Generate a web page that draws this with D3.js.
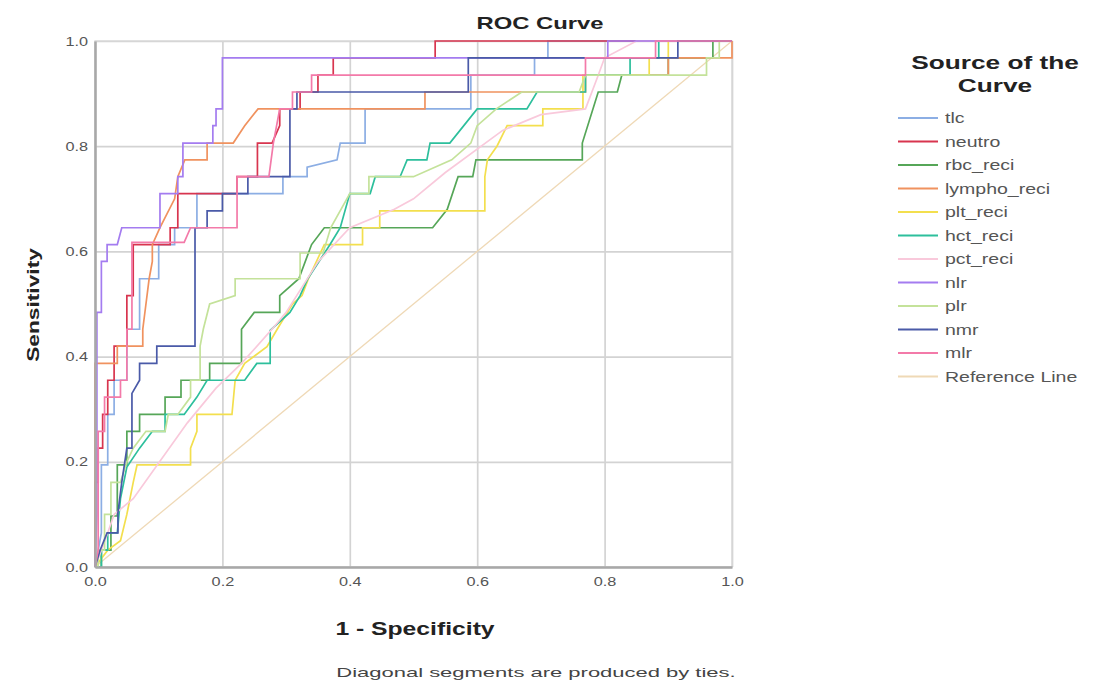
<!DOCTYPE html>
<html>
<head>
<meta charset="utf-8">
<script src="https://cdn.jsdelivr.net/npm/d3@7"></script>
<style>
  body { margin: 0; background: #fff; }
  svg { font-family: "Liberation Sans", Arial, sans-serif; }
</style>
</head>
<body>
<div id="chart"></div>
<script>
// --- Data: [1 - specificity, sensitivity] vertices of each ROC staircase ---
const tlc = [[0,0],[0.005,0.032],[0.01,0.065],[0.01,0.194],[0.02,0.194],[0.02,0.29],[0.03,0.29],[0.03,0.355],[0.05,0.355],[0.05,0.452],[0.07,0.452],[0.07,0.548],[0.1,0.548],[0.1,0.613],[0.125,0.613],[0.125,0.645],[0.16,0.645],[0.16,0.71],[0.295,0.71],[0.295,0.742],[0.333,0.742],[0.333,0.76],[0.38,0.774],[0.385,0.806],[0.424,0.806],[0.424,0.871],[0.59,0.871],[0.59,0.935],[0.69,0.935],[0.69,0.968],[0.711,0.968],[0.711,1],[1,1]];
const neutro = [[0,0],[0,0.161],[0.005,0.161],[0.005,0.226],[0.012,0.226],[0.012,0.29],[0.02,0.29],[0.02,0.355],[0.03,0.355],[0.03,0.42],[0.05,0.42],[0.05,0.516],[0.06,0.516],[0.06,0.613],[0.118,0.613],[0.118,0.645],[0.13,0.645],[0.13,0.71],[0.223,0.71],[0.223,0.742],[0.255,0.742],[0.255,0.806],[0.278,0.806],[0.29,0.839],[0.29,0.871],[0.322,0.871],[0.322,0.903],[0.35,0.903],[0.35,0.935],[0.374,0.935],[0.374,0.968],[0.534,0.968],[0.534,1],[1,1]];
const rbc_reci = [[0,0],[0.01,0],[0.01,0.032],[0.025,0.032],[0.025,0.097],[0.035,0.097],[0.035,0.194],[0.05,0.194],[0.05,0.258],[0.07,0.258],[0.07,0.29],[0.11,0.29],[0.11,0.323],[0.135,0.323],[0.135,0.355],[0.18,0.355],[0.18,0.387],[0.23,0.387],[0.23,0.452],[0.25,0.484],[0.29,0.484],[0.29,0.516],[0.32,0.548],[0.34,0.613],[0.36,0.645],[0.53,0.645],[0.553,0.68],[0.57,0.742],[0.593,0.742],[0.598,0.774],[0.765,0.774],[0.765,0.806],[0.79,0.903],[0.82,0.903],[0.827,0.935],[0.9,0.935],[0.9,0.968],[0.97,0.968],[0.97,1],[1,1]];
const lympho_reci = [[0,0],[0,0.387],[0.035,0.387],[0.035,0.42],[0.075,0.42],[0.075,0.452],[0.08,0.5],[0.085,0.548],[0.09,0.581],[0.09,0.613],[0.102,0.645],[0.125,0.7],[0.13,0.742],[0.141,0.774],[0.176,0.774],[0.176,0.806],[0.217,0.806],[0.235,0.839],[0.256,0.871],[0.518,0.871],[0.518,0.903],[0.77,0.903],[0.77,0.935],[0.9,0.935],[0.9,0.968],[1,0.968],[1,1]];
const plt_reci = [[0,0],[0.02,0.032],[0.04,0.05],[0.05,0.1],[0.06,0.161],[0.066,0.194],[0.15,0.194],[0.15,0.226],[0.16,0.258],[0.16,0.29],[0.215,0.29],[0.22,0.355],[0.235,0.387],[0.27,0.419],[0.286,0.452],[0.31,0.5],[0.325,0.516],[0.335,0.548],[0.36,0.613],[0.42,0.613],[0.42,0.645],[0.447,0.645],[0.447,0.677],[0.612,0.677],[0.612,0.742],[0.616,0.774],[0.631,0.8],[0.647,0.839],[0.703,0.839],[0.703,0.871],[0.766,0.871],[0.766,0.935],[0.87,0.935],[0.87,0.968],[0.9,0.968],[0.9,1],[1,1]];
const hct_reci = [[0,0],[0.01,0],[0.01,0.032],[0.02,0.032],[0.02,0.065],[0.035,0.065],[0.04,0.13],[0.05,0.19],[0.07,0.226],[0.09,0.258],[0.11,0.258],[0.11,0.29],[0.14,0.29],[0.16,0.323],[0.176,0.355],[0.235,0.355],[0.254,0.387],[0.275,0.387],[0.275,0.45],[0.306,0.484],[0.322,0.516],[0.334,0.548],[0.369,0.613],[0.385,0.645],[0.4,0.71],[0.432,0.71],[0.44,0.742],[0.479,0.742],[0.49,0.774],[0.521,0.774],[0.526,0.806],[0.557,0.806],[0.6,0.871],[0.678,0.871],[0.694,0.903],[0.77,0.903],[0.77,0.935],[0.84,0.935],[0.84,0.968],[0.885,0.968],[0.885,1],[1,1]];
const pct_reci = [[0,0],[0.01,0.032],[0.02,0.065],[0.03,0.1],[0.06,0.13],[0.145,0.274],[0.19,0.34],[0.23,0.387],[0.28,0.455],[0.3,0.484],[0.35,0.58],[0.4,0.645],[0.47,0.68],[0.5,0.7],[0.55,0.75],[0.64,0.83],[0.7,0.86],[0.77,0.871],[0.79,0.935],[0.8,0.968],[0.85,1],[1,1]];
const nlr = [[0,0],[0.003,0.1],[0.003,0.484],[0.01,0.484],[0.01,0.581],[0.019,0.581],[0.019,0.613],[0.035,0.613],[0.042,0.645],[0.102,0.645],[0.102,0.71],[0.13,0.71],[0.13,0.742],[0.138,0.742],[0.138,0.806],[0.185,0.806],[0.185,0.839],[0.19,0.839],[0.19,0.871],[0.2,0.871],[0.2,0.968],[0.805,0.968],[0.805,1],[1,1]];
const plr = [[0,0],[0.005,0],[0.005,0.032],[0.015,0.032],[0.015,0.1],[0.025,0.1],[0.025,0.161],[0.04,0.161],[0.05,0.2],[0.06,0.226],[0.08,0.258],[0.11,0.258],[0.115,0.29],[0.13,0.29],[0.15,0.323],[0.15,0.355],[0.165,0.355],[0.165,0.42],[0.17,0.452],[0.18,0.5],[0.22,0.516],[0.22,0.548],[0.322,0.548],[0.322,0.597],[0.358,0.597],[0.37,0.645],[0.4,0.71],[0.43,0.71],[0.43,0.742],[0.5,0.742],[0.56,0.774],[0.59,0.806],[0.6,0.839],[0.63,0.871],[0.67,0.903],[0.76,0.903],[0.77,0.935],[0.96,0.935],[0.96,0.968],[0.98,0.968],[0.98,1],[1,1]];
const nmr = [[0,0],[0.008,0.032],[0.019,0.065],[0.036,0.065],[0.036,0.103],[0.042,0.161],[0.05,0.226],[0.058,0.226],[0.058,0.33],[0.07,0.355],[0.07,0.387],[0.097,0.387],[0.097,0.42],[0.157,0.42],[0.157,0.645],[0.176,0.645],[0.176,0.677],[0.2,0.677],[0.2,0.71],[0.24,0.71],[0.24,0.742],[0.306,0.742],[0.306,0.871],[0.317,0.871],[0.317,0.903],[0.586,0.903],[0.586,0.968],[0.915,0.968],[0.915,1],[1,1]];
const mlr = [[0,0],[0.005,0.032],[0.005,0.258],[0.015,0.258],[0.015,0.323],[0.04,0.323],[0.04,0.355],[0.05,0.355],[0.05,0.452],[0.058,0.452],[0.058,0.617],[0.14,0.617],[0.15,0.645],[0.223,0.645],[0.223,0.742],[0.273,0.742],[0.28,0.806],[0.29,0.871],[0.31,0.871],[0.31,0.903],[0.34,0.903],[0.34,0.935],[0.77,0.935],[0.77,0.968],[0.88,0.968],[0.88,1],[1,1]];
const refLine = [[0,0],[1,1]];

const seriesNames = ["tlc","neutro","rbc_reci","lympho_reci","plt_reci","hct_reci","pct_reci","nlr","plr","nmr","mlr","Reference Line"];
const seriesData = [tlc, neutro, rbc_reci, lympho_reci, plt_reci, hct_reci, pct_reci, nlr, plr, nmr, mlr, refLine];
const seriesColors = ["#8caee4","#d8354f","#56a658","#f0925f","#f3df4e","#2dbf9c","#f9c9db","#a47cf0","#c4e29a","#4a5aa8","#f37aa9","#efd9b6"];
const ticks = [0, 0.2, 0.4, 0.6, 0.8, 1.0];

const W = 1094, H = 683;
const svg = d3.select("#chart").append("svg").attr("width", W).attr("height", H);

// reference text is drawn wider than the font; stretch each text, keeping its anchor
function widen(sel, f) {
  sel.each(function () {
    const w = this.getComputedTextLength();
    d3.select(this).attr("textLength", w * f).attr("lengthAdjust", "spacingAndGlyphs");
  });
}

const x = d3.scaleLinear().domain([0, 1]).range([95, 732]);
const y = d3.scaleLinear().domain([0, 1]).range([567, 41]);

// grid
svg.append("g").attr("transform", "translate(0,567)")
  .call(d3.axisBottom(x).tickValues(ticks).tickSize(-526).tickFormat(""))
  .call(g => g.select(".domain").remove())
  .call(g => g.selectAll("line").attr("stroke", "#d3d3d3").attr("stroke-width", 1.7));
svg.append("g").attr("transform", "translate(95,0)")
  .call(d3.axisLeft(y).tickValues(ticks).tickSize(-637).tickFormat(""))
  .call(g => g.select(".domain").remove())
  .call(g => g.selectAll("line").attr("stroke", "#d3d3d3").attr("stroke-width", 1.7));

// frame
svg.append("rect").attr("x", 95).attr("y", 41).attr("width", 637).attr("height", 526)
  .attr("fill", "none").attr("stroke", "#d8d8d8").attr("stroke-width", 1.4);

// curves, reference line first
const line = d3.line().x(d => x(d[0])).y(d => y(d[1]));
const order = [11, 0, 1, 2, 3, 4, 5, 6, 7, 8, 9, 10];
svg.append("g").selectAll("path").data(order).join("path")
  .attr("d", i => line(seriesData[i]))
  .attr("fill", "none")
  .attr("stroke", i => seriesColors[i])
  .attr("stroke-width", i => i === 11 ? 1.3 : 1.7);

// axes
svg.append("g").attr("transform", "translate(0,567)")
  .call(d3.axisBottom(x).tickValues(ticks).tickSize(0).tickPadding(10).tickFormat(d3.format(".1f")))
  .call(g => g.select(".domain").attr("stroke", "#a8a8a8").attr("stroke-width", 2.5))
  .call(g => g.selectAll("text").attr("fill", "#555").attr("font-size", 13).attr("font-family", "Liberation Sans, Arial"))
  .call(g => widen(g.selectAll("text"), 1.25));
svg.append("g").attr("transform", "translate(95,0)")
  .call(d3.axisLeft(y).tickValues(ticks).tickSize(0).tickPadding(7).tickFormat(d3.format(".1f")))
  .call(g => g.select(".domain").attr("stroke", "#a8a8a8").attr("stroke-width", 2.5))
  .call(g => g.selectAll("text").attr("fill", "#555").attr("font-size", 13).attr("font-family", "Liberation Sans, Arial"))
  .call(g => widen(g.selectAll("text"), 1.25));

// titles
svg.append("text").attr("x", 540).attr("y", 29).attr("text-anchor", "middle")
  .attr("font-size", 17).attr("font-weight", "bold").attr("fill", "#222").text("ROC Curve")
  .call(s => widen(s, 1.4));
svg.append("text").attr("x", 415).attr("y", 635).attr("text-anchor", "middle")
  .attr("font-size", 19).attr("font-weight", "bold").attr("fill", "#222").text("1 - Specificity")
  .call(s => widen(s, 1.3));
svg.append("text").attr("transform", "translate(39,305) rotate(-90)").attr("text-anchor", "middle")
  .attr("font-size", 16).attr("font-weight", "bold").attr("fill", "#222").text("Sensitivity")
  .call(s => widen(s, 1.42));
svg.append("text").attr("x", 536).attr("y", 677).attr("text-anchor", "middle")
  .attr("font-size", 13).attr("fill", "#444").text("Diagonal segments are produced by ties.")
  .call(s => widen(s, 1.69));

// legend
const leg = svg.append("g");
leg.append("text").attr("x", 995).attr("y", 69).attr("text-anchor", "middle")
  .attr("font-size", 19).attr("font-weight", "bold").attr("fill", "#222").text("Source of the")
  .call(s => widen(s, 1.38));
leg.append("text").attr("x", 995).attr("y", 92).attr("text-anchor", "middle")
  .attr("font-size", 19).attr("font-weight", "bold").attr("fill", "#222").text("Curve")
  .call(s => widen(s, 1.38));
const items = leg.selectAll("g.item").data(seriesNames).join("g").attr("class", "item")
  .attr("transform", (d, i) => `translate(0,${118 + i * 23.5})`);
items.append("line").attr("x1", 898).attr("x2", 938).attr("y1", 0).attr("y2", 0)
  .attr("stroke", (d, i) => seriesColors[i]).attr("stroke-width", 2.2);
items.append("text").attr("x", 945).attr("y", 5).attr("font-size", 15).attr("fill", "#555").text(d => d)
  .call(s => widen(s, 1.3));
</script>
</body>
</html>
